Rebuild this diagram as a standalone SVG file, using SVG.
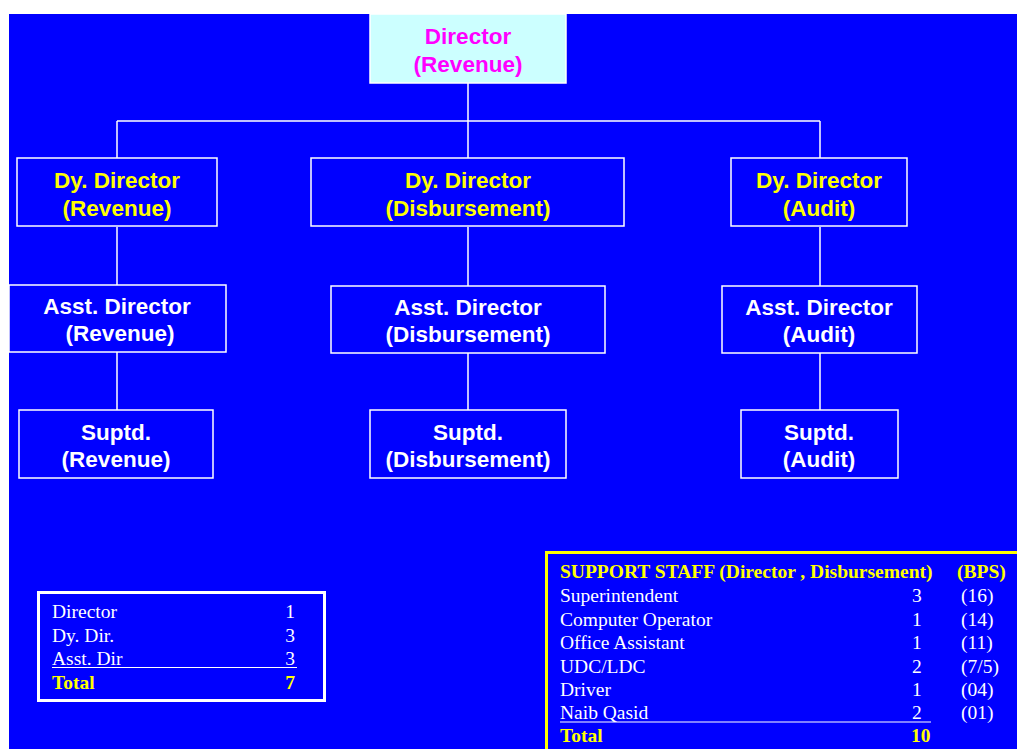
<svg xmlns="http://www.w3.org/2000/svg" width="1017" height="749" viewBox="0 0 1017 749">
<style>
.box{fill:#0000FF;stroke:#FFFFFF;stroke-width:1.5}
.top{fill:#CCFFFF;stroke:#FFFFFF;stroke-width:1.5}
.conn{stroke:#FFFFFF;stroke-width:1.5;fill:none}
.t{font-family:"Liberation Sans",Arial,sans-serif;font-weight:bold;font-size:22.5px;text-anchor:middle}
.y{fill:#FFFF00}
.w{fill:#FFFFFF}
.m{fill:#FF00FF}
.s{font-family:"Liberation Serif","Times New Roman",serif;font-size:19.5px;fill:#FFFFFF}
.sb{font-family:"Liberation Serif","Times New Roman",serif;font-size:19.5px;font-weight:bold;fill:#FFFF00}
</style>
<rect x="0" y="0" width="1017" height="749" fill="#FFFFFF"/>
<rect x="9" y="14" width="1008" height="735" fill="#0000FF"/>
<g id="connectors">
<path class="conn" d="M468,83 V158 M117,121 H820 M117,121 V158 M820,121 V158"/>
<path class="conn" d="M117,227 V285 M117,352 V410"/>
<path class="conn" d="M468,227 V286 M468,353 V410"/>
<path class="conn" d="M820,227 V286 M820,353 V410"/>
</g>
<g id="director">
<rect class="top" x="370" y="14" width="196" height="69"/>
<text class="t m" x="468" y="44">Director</text>
<text class="t m" x="468" y="72">(Revenue)</text>
</g>
<g id="dy-revenue">
<rect class="box" x="17" y="158" width="200" height="68"/>
<text class="t y" x="117" y="188">Dy. Director</text>
<text class="t y" x="117" y="216">(Revenue)</text>
</g>
<g id="dy-disbursement">
<rect class="box" x="311" y="158" width="313" height="68"/>
<text class="t y" x="468" y="188">Dy. Director</text>
<text class="t y" x="468" y="216">(Disbursement)</text>
</g>
<g id="dy-audit">
<rect class="box" x="731" y="158" width="176" height="68"/>
<text class="t y" x="819" y="188">Dy. Director</text>
<text class="t y" x="819" y="216">(Audit)</text>
</g>
<g id="asst-revenue">
<rect class="box" x="9" y="285" width="217" height="67"/>
<text class="t w" x="117" y="314">Asst. Director</text>
<text class="t w" x="120" y="341">(Revenue)</text>
</g>
<g id="asst-disbursement">
<rect class="box" x="331" y="286" width="274" height="67"/>
<text class="t w" x="468" y="315">Asst. Director</text>
<text class="t w" x="468" y="342">(Disbursement)</text>
</g>
<g id="asst-audit">
<rect class="box" x="722" y="286" width="195" height="67"/>
<text class="t w" x="819" y="315">Asst. Director</text>
<text class="t w" x="819" y="342">(Audit)</text>
</g>
<g id="suptd-revenue">
<rect class="box" x="19" y="410" width="194" height="68"/>
<text class="t w" x="116" y="440">Suptd.</text>
<text class="t w" x="116" y="467">(Revenue)</text>
</g>
<g id="suptd-disbursement">
<rect class="box" x="370" y="410" width="196" height="68"/>
<text class="t w" x="468" y="440">Suptd.</text>
<text class="t w" x="468" y="467">(Disbursement)</text>
</g>
<g id="suptd-audit">
<rect class="box" x="741" y="410" width="157" height="68"/>
<text class="t w" x="819" y="440">Suptd.</text>
<text class="t w" x="819" y="467">(Audit)</text>
</g>
<g id="summary">
<rect x="38.5" y="592.5" width="286" height="108" fill="#0000FF" stroke="#FFFFFF" stroke-width="3"/>
<text class="s" x="52" y="618">Director</text>
<text class="s" x="295" y="618" text-anchor="end">1</text>
<text class="s" x="52" y="642">Dy. Dir.</text>
<text class="s" x="295" y="642" text-anchor="end">3</text>
<text class="s" x="52" y="665">Asst. Dir</text>
<text class="s" x="295" y="665" text-anchor="end">3</text>
<line x1="52" y1="667.5" x2="297" y2="667.5" stroke="#FFFFFF" stroke-width="1.2"/>
<text class="sb" x="52" y="689">Total</text>
<text class="sb" x="295" y="689" text-anchor="end">7</text>
</g>
<g id="support-staff">
<rect x="546.5" y="552.5" width="480" height="210" fill="#0000FF" stroke="#FFFF00" stroke-width="3"/>
<text class="sb" x="560" y="578">SUPPORT STAFF (Director , Disbursement)</text>
<text class="sb" x="957" y="578">(BPS)</text>
<text class="s" x="560" y="602">Superintendent</text>
<text class="s" x="912" y="602">3</text>
<text class="s" x="961" y="602">(16)</text>
<text class="s" x="560" y="626">Computer Operator</text>
<text class="s" x="912" y="626">1</text>
<text class="s" x="961" y="626">(14)</text>
<text class="s" x="560" y="649">Office Assistant</text>
<text class="s" x="912" y="649">1</text>
<text class="s" x="961" y="649">(11)</text>
<text class="s" x="560" y="673">UDC/LDC</text>
<text class="s" x="912" y="673">2</text>
<text class="s" x="961" y="673">(7/5)</text>
<text class="s" x="560" y="696">Driver</text>
<text class="s" x="912" y="696">1</text>
<text class="s" x="961" y="696">(04)</text>
<text class="s" x="560" y="719">Naib Qasid</text>
<text class="s" x="912" y="719">2</text>
<text class="s" x="961" y="719">(01)</text>
<line x1="560" y1="722" x2="931" y2="722" stroke="#FFFFFF" stroke-width="1.2"/>
<text class="sb" x="560" y="742">Total</text>
<text class="sb" x="911" y="742">10</text>
</g>
</svg>
